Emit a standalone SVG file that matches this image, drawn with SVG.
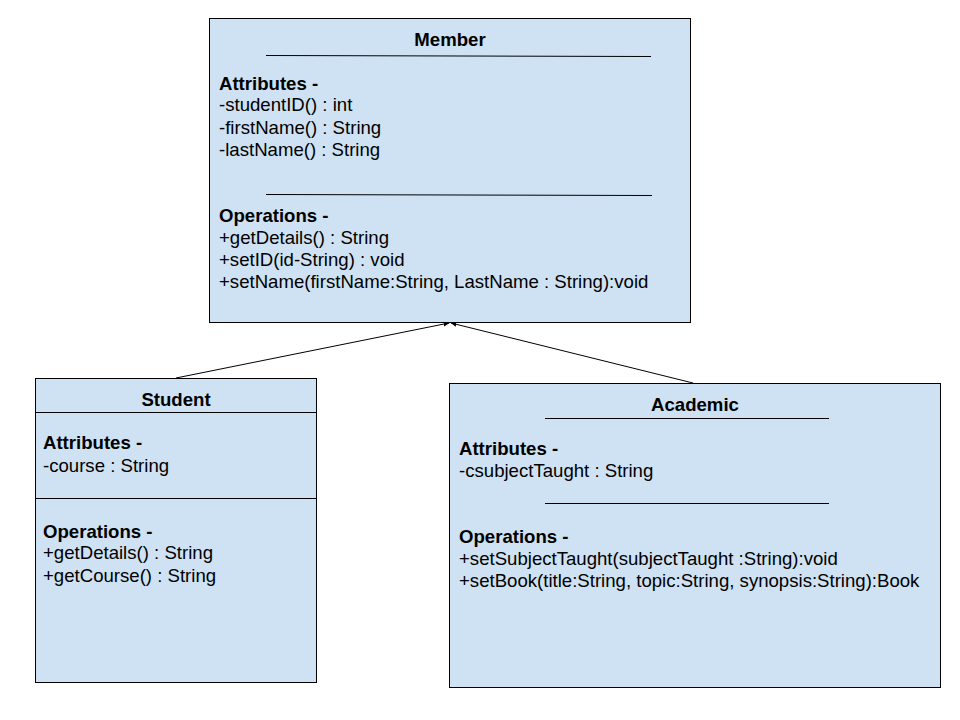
<svg xmlns="http://www.w3.org/2000/svg" width="960" height="720" viewBox="0 0 960 720">
<defs>
<style>
.box{fill:#cfe2f3;stroke:#000;stroke-width:1}
.sep{stroke:#000;stroke-width:1}
text{font-family:"Liberation Sans",Arial,sans-serif;font-size:18.6px;fill:#000}
.b{font-weight:bold}
.t{font-weight:bold;text-anchor:middle}
.conn{stroke:#000;stroke-width:1;fill:none}
</style>
<marker id="arr" viewBox="0 0 10 10" refX="9" refY="5" markerWidth="6" markerHeight="6" orient="auto-start-reverse" markerUnits="userSpaceOnUse">
<path d="M0,1 L10,5 L0,9 z" fill="#000"/>
</marker>
</defs>
<rect width="960" height="720" fill="#fff"/>
<g id="member">
<rect class="box" x="209.5" y="18.5" width="481" height="304"/>
<text class="t" x="450" y="46">Member</text>
<line class="sep" x1="266" y1="55.5" x2="651" y2="56.5"/>
<text class="b" x="219" y="90">Attributes -</text>
<text x="219" y="111">-studentID() : int</text>
<text x="219" y="134">-firstName() : String</text>
<text x="219" y="156">-lastName() : String</text>
<line class="sep" x1="266" y1="194.5" x2="652" y2="195.5"/>
<text class="b" x="219" y="222">Operations -</text>
<text x="219" y="244">+getDetails() : String</text>
<text x="219" y="266">+setID(id-String) : void</text>
<text x="219" y="288">+setName(firstName:String, LastName : String):void</text>
</g>
<g id="student">
<rect class="box" x="35.5" y="378.5" width="281" height="304"/>
<text class="t" x="176" y="406">Student</text>
<line class="sep" x1="35" y1="412.5" x2="317" y2="412.5"/>
<text class="b" x="43" y="449">Attributes -</text>
<text x="43" y="472">-course : String</text>
<line class="sep" x1="35" y1="498.5" x2="317" y2="498.5"/>
<text class="b" x="43" y="538">Operations -</text>
<text x="43" y="559">+getDetails() : String</text>
<text x="43" y="582">+getCourse() : String</text>
</g>
<g id="academic">
<rect class="box" x="449.5" y="383.5" width="491" height="304"/>
<text class="t" x="695" y="411">Academic</text>
<line class="sep" x1="545" y1="418.5" x2="829" y2="418.5"/>
<text class="b" x="459" y="455">Attributes -</text>
<text x="459" y="477">-csubjectTaught : String</text>
<line class="sep" x1="545" y1="503.5" x2="829" y2="503.5"/>
<text class="b" x="459" y="543">Operations -</text>
<text x="459" y="565">+setSubjectTaught(subjectTaught :String):void</text>
<text x="459" y="587">+setBook(title:String, topic:String, synopsis:String):Book</text>
</g>
<g id="connectors">
<line class="conn" x1="176" y1="378" x2="449" y2="323" marker-end="url(#arr)"/>
<line class="conn" x1="693" y1="383" x2="451" y2="323" marker-end="url(#arr)"/>
</g>
</svg>
